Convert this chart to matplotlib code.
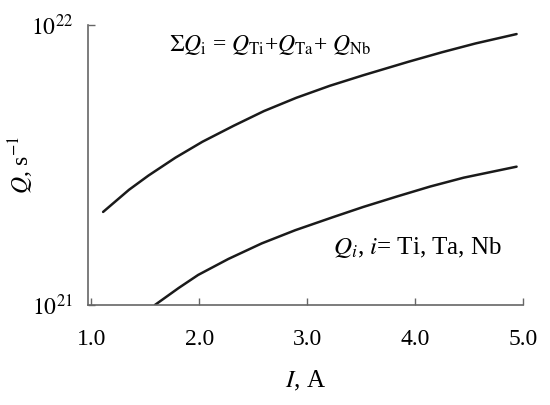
import matplotlib
matplotlib.use("Agg")
import matplotlib.pyplot as plt
from matplotlib.ticker import FixedLocator, FixedFormatter, NullLocator

plt.rcParams['font.family'] = ['Liberation Serif', 'DejaVu Serif']
plt.rcParams['mathtext.fontset'] = 'stix'

# Data
I_sum = [1.11, 1.35, 1.53, 1.78, 2.03, 2.32, 2.6, 2.9, 3.21, 3.52, 3.94, 4.25, 4.56, 4.94]
Q_sum = [2.15e21, 2.58e21, 2.9e21, 3.36e21, 3.83e21, 4.37e21, 4.93e21, 5.5e21,
         6.07e21, 6.62e21, 7.4e21, 8.0e21, 8.6e21, 9.29e21]
I_i = [1.59, 1.81, 1.99, 2.27, 2.58, 2.89, 3.24, 3.52, 3.83, 4.14, 4.45, 4.94]
Q_i = [1.0e21, 1.15e21, 1.28e21, 1.46e21, 1.66e21, 1.85e21, 2.06e21, 2.24e21,
       2.44e21, 2.65e21, 2.85e21, 3.12e21]

x_ticks = [1.0, 2.0, 3.0, 4.0, 5.0]
x_tick_labels = ["1.0", "2.0", "3.0", "4.0", "5.0"]

fig = plt.figure(figsize=(5.5, 4.05), dpi=100)
ax = fig.add_axes([0.16, 0.247, 0.791, 0.691])

ax.plot(I_sum, Q_sum, color='#1a1a1a', lw=1.8, solid_capstyle='round', solid_joinstyle='round')
ax.plot(I_i, Q_i, color='#1a1a1a', lw=1.8, solid_capstyle='round', solid_joinstyle='round')

ax.set_yscale('log')
ax.set_ylim(1e21, 1e22)
ax.set_xlim(0.97, 5.0)
ax.yaxis.set_minor_locator(NullLocator())
ax.yaxis.set_major_locator(FixedLocator([1e21, 1e22]))
ax.yaxis.set_major_formatter(FixedFormatter([r'$10^{21}$', r'$10^{22}$']))
ax.xaxis.set_major_locator(FixedLocator(x_ticks))
ax.xaxis.set_major_formatter(FixedFormatter(x_tick_labels))

for s in ['top', 'right']:
    ax.spines[s].set_visible(False)
for s in ['left', 'bottom']:
    ax.spines[s].set_color('#666666')
    ax.spines[s].set_linewidth(1.2)

ax.tick_params(axis='both', direction='in', length=5, color='#666666', width=1.0,
               labelsize=17, labelcolor='black')
ax.tick_params(axis='x', pad=17)
ax.tick_params(axis='y', pad=11)

ax.set_xlabel(r'$\mathit{I}$, A', fontsize=18, labelpad=14)
ax.set_ylabel(r'$\mathit{Q}$, s$^{-1}$', fontsize=17)
ax.yaxis.set_label_coords(-0.12, 0.5)

ax.text(1.72, 8.5e21, r'$\Sigma\mathit{Q}_{\mathrm{i}}$ = $\mathit{Q}_{\mathrm{Ti}}$+$\mathit{Q}_{\mathrm{Ta}}$+ $\mathit{Q}_{\mathrm{Nb}}$',
        fontsize=17, ha='left', va='center')
ax.text(3.24, 1.6e21, r'$\mathit{Q}_{\mathit{i}}$, $\mathit{i}$= Ti, Ta, Nb',
        fontsize=18, ha='left', va='center')

fig.savefig('out.png', dpi=100)
